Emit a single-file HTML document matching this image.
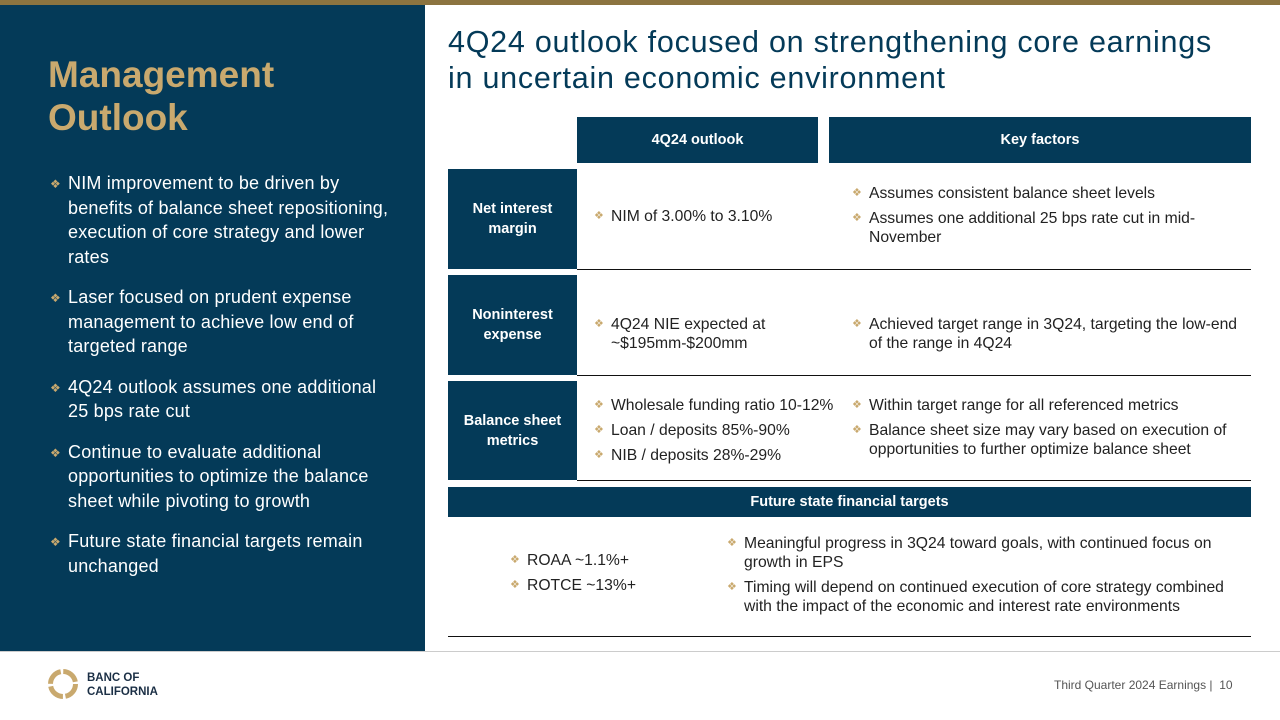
<!DOCTYPE html>
<html><head><meta charset="utf-8"><style>
*{margin:0;padding:0;box-sizing:border-box}
body{width:1280px;height:720px;position:relative;background:#fff;font-family:"Liberation Sans",Arial,sans-serif;overflow:hidden;color:#222}
.a{position:absolute}
.navy{background:#043a58;color:#fff}
.b{position:relative;padding-left:17px;font-size:15.7px;line-height:19px;color:#222}
.b:before{content:"❖";position:absolute;left:0;top:0;color:#c9a96e;font-size:11px}
.lb{position:relative;padding-left:18px;font-size:18px;letter-spacing:0.2px;line-height:24.5px;color:#fff;margin-bottom:16px}
.lb:before{content:"❖";position:absolute;left:0;top:1px;color:#c9a96e;font-size:12px}
.hd{display:flex;align-items:center;justify-content:center;font-weight:bold;font-size:14.5px;text-align:center;line-height:20px}
.ln{height:1px;background:#111}
</style></head><body>
<div class="a" style="left:0;top:0;width:1280px;height:5px;background:#8c7440"></div>
<div class="a navy" style="left:0;top:5px;width:425px;height:646px"></div>
<div class="a" style="left:48px;top:53px;font-size:37px;font-weight:bold;color:#c9a96e;line-height:43px">Management<br>Outlook</div>
<div class="a" style="left:50px;top:171px;width:342px">
<div class="lb">NIM improvement to be driven by benefits of balance sheet repositioning, execution of core strategy and lower rates</div>
<div class="lb">Laser focused on prudent expense management to achieve low end of targeted range</div>
<div class="lb">4Q24 outlook assumes one additional 25 bps rate cut</div>
<div class="lb">Continue to evaluate additional opportunities to optimize the balance sheet while pivoting to growth</div>
<div class="lb">Future state financial targets remain unchanged</div>
</div>
<div class="a" style="left:448px;top:24px;font-size:30.5px;letter-spacing:0.75px;line-height:36px;color:#043a58;white-space:nowrap">4Q24 outlook focused on strengthening core earnings<br>in uncertain economic environment</div>

<div class="a navy hd" style="left:577px;top:117px;width:241px;height:46px">4Q24 outlook</div>
<div class="a navy hd" style="left:829px;top:117px;width:422px;height:46px">Key factors</div>

<div class="a navy hd" style="left:448px;top:169px;width:129px;height:100px">Net interest<br>margin</div>
<div class="a" style="left:594px;top:207px;width:230px"><div class="b">NIM of 3.00% to 3.10%</div></div>
<div class="a" style="left:852px;top:184px;width:390px"><div class="b" style="margin-bottom:6px">Assumes consistent balance sheet levels</div><div class="b">Assumes one additional 25 bps rate cut in mid-November</div></div>
<div class="a ln" style="left:577px;top:269px;width:674px"></div>

<div class="a navy hd" style="left:448px;top:275px;width:129px;height:100px">Noninterest<br>expense</div>
<div class="a" style="left:594px;top:315px;width:230px"><div class="b">4Q24 NIE expected at ~$195mm-$200mm</div></div>
<div class="a" style="left:852px;top:315px;width:395px"><div class="b">Achieved target range in 3Q24, targeting the low-end of the range in 4Q24</div></div>
<div class="a ln" style="left:577px;top:375px;width:674px"></div>

<div class="a navy hd" style="left:448px;top:381px;width:129px;height:99px">Balance sheet<br>metrics</div>
<div class="a" style="left:594px;top:396px;width:250px"><div class="b" style="margin-bottom:6px">Wholesale funding ratio 10-12%</div><div class="b" style="margin-bottom:6px">Loan / deposits 85%-90%</div><div class="b">NIB / deposits 28%-29%</div></div>
<div class="a" style="left:852px;top:396px;width:395px"><div class="b" style="margin-bottom:6px">Within target range for all referenced metrics</div><div class="b">Balance sheet size may vary based on execution of opportunities to further optimize balance sheet</div></div>
<div class="a ln" style="left:577px;top:480px;width:674px"></div>

<div class="a navy hd" style="left:448px;top:487px;width:803px;height:30px">Future state financial targets</div>
<div class="a" style="left:510px;top:551px;width:200px"><div class="b" style="margin-bottom:6px">ROAA ~1.1%+</div><div class="b">ROTCE ~13%+</div></div>
<div class="a" style="left:727px;top:534px;width:515px"><div class="b" style="margin-bottom:6px">Meaningful progress in 3Q24 toward goals, with continued focus on growth in EPS</div><div class="b">Timing will depend on continued execution of core strategy combined with the impact of the economic and interest rate environments</div></div>
<div class="a ln" style="left:448px;top:636px;width:803px"></div>

<div class="a" style="left:0;top:651px;width:1280px;height:1px;background:#ccc"></div>
<svg class="a" style="left:47px;top:668px" width="32" height="32" viewBox="0 0 32 32"><circle cx="16" cy="16" r="12.5" fill="none" stroke="#c9a96e" stroke-width="5" stroke-dasharray="17 2.6"/></svg>
<div class="a" style="left:87px;top:671px;font-size:11.5px;font-weight:bold;color:#1b2f45;line-height:14px">BANC OF<br>CALIFORNIA</div>
<div class="a" style="left:1054px;top:678px;font-size:12px;color:#555">Third Quarter 2024 Earnings |&nbsp; 10</div>
</body></html>
